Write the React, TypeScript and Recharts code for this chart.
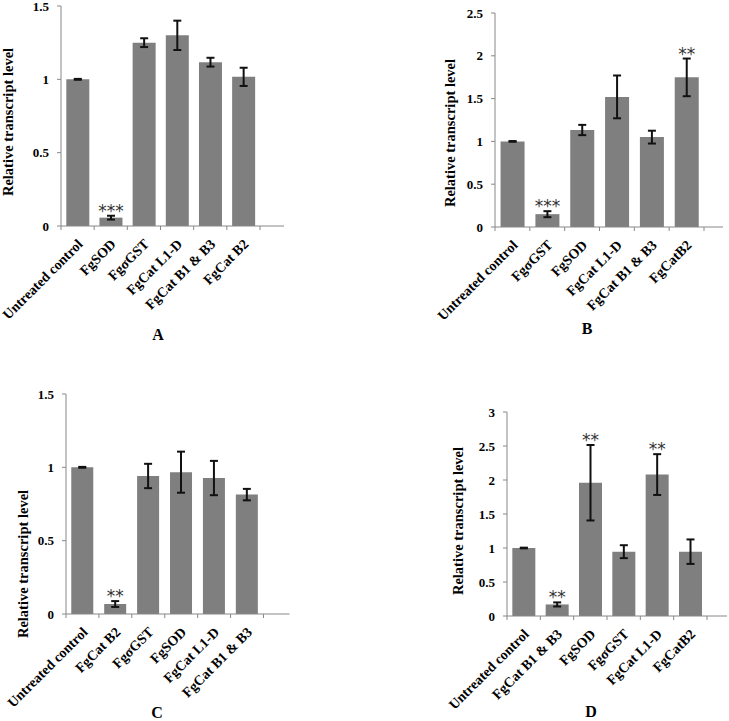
import { BarChart, Bar, XAxis, YAxis, ErrorBar, LabelList } from 'recharts';

// Panel A
const catsA = ['Untreated control', 'FgSOD', 'FgσGST', 'FgCat L1-D', 'FgCat B1 & B3', 'FgCat B2'];
const valsA = [1.0, 0.057, 1.25, 1.3, 1.117, 1.017];
const errsA = [0.003, 0.013, 0.03, 0.1, 0.03, 0.062];
const starsA = ['', '***', '', '', '', ''];
const ticksA = [0, 0.5, 1, 1.5];

// Panel B
const catsB = ['Untreated control', 'FgσGST', 'FgSOD', 'FgCat L1-D', 'FgCat B1 & B3', 'FgCatB2'];
const valsB = [1.0, 0.15, 1.133, 1.52, 1.05, 1.748];
const errsB = [0.004, 0.035, 0.06, 0.25, 0.075, 0.22];
const starsB = ['', '***', '', '', '', '**'];
const ticksB = [0, 0.5, 1, 1.5, 2, 2.5];

// Panel C
const catsC = ['Untreated control', 'FgCat B2', 'FgσGST', 'FgSOD', 'FgCat L1-D', 'FgCat B1 & B3'];
const valsC = [1.0, 0.068, 0.941, 0.967, 0.927, 0.814];
const errsC = [0.003, 0.02, 0.083, 0.14, 0.117, 0.039];
const starsC = ['', '**', '', '', '', ''];
const ticksC = [0, 0.5, 1, 1.5];

// Panel D
const catsD = ['Untreated control', 'FgCat B1 & B3', 'FgSOD', 'FgσGST', 'FgCat L1-D', 'FgCatB2'];
const valsD = [1.0, 0.17, 1.96, 0.946, 2.08, 0.946];
const errsD = [0.005, 0.03, 0.555, 0.095, 0.3, 0.18];
const starsD = ['', '**', '**', '', '**', ''];
const ticksD = [0, 0.5, 1, 1.5, 2, 2.5, 3];

const AXIS = '#888888';
const BAR = '#7f7f7f';
const SERIF = '"Liberation Serif", "Times New Roman", serif';

type PanelProps = {
  cats: string[];
  vals: number[];
  errs: number[];
  stars: string[];
  ticks: number[];
  axisX: number;
  plotTop: number;
  plotBottom: number;
  axisEnd: number;
  bandEnd: number;
};

const Panel = ({ cats, vals, errs, stars, ticks, axisX, plotTop, plotBottom, axisEnd, bandEnd }: PanelProps) => {
  const data = cats.map((c, i) => ({ name: c, value: vals[i], err: errs[i], stars: stars[i] }));
  const yW = 90;
  const left = axisX - yW;
  const top = plotTop - 10;
  const xH = 120;
  const width = axisEnd - left + 5;
  const height = plotBottom - top + xH + 5;
  const band = (bandEnd - axisX) / cats.length;
  const padR = axisEnd - bandEnd;

  const XTick = (p: any) => {
    const { x, y, payload, index } = p;
    const tx = x + 6;
    const ty = y + 19;
    return (
      <g>
        <line x1={x - band / 2} x2={x - band / 2} y1={y} y2={y + 4} stroke={AXIS} />
        {index === cats.length - 1 && (
          <line x1={x + band / 2} x2={x + band / 2} y1={y} y2={y + 4} stroke={AXIS} />
        )}
        <text
          x={tx}
          y={ty}
          transform={`rotate(-45 ${tx} ${ty})`}
          textAnchor="end"
          fontFamily={SERIF}
          fontWeight="bold"
          fontSize={14}
          fill="#000"
        >
          {payload.value}
        </text>
      </g>
    );
  };

  const renderStars = (p: any) => {
    const { x, y, width: w, height: h, index, value } = p;
    if (!value) return null;
    const v = vals[index];
    const errTop = y - (errs[index] * h) / v;
    return (
      <text
        x={x + w / 2}
        y={errTop + 1}
        textAnchor="middle"
        fontFamily='"DejaVu Sans", sans-serif'
        fontSize={17}
        fill="#333"
      >
        {value}
      </text>
    );
  };

  return (
    <div style={{ position: 'absolute', left, top }}>
      <BarChart
        width={width}
        height={height}
        data={data}
        margin={{ top: 10, right: 5, bottom: 5, left: 0 }}
        barCategoryGap="16%"
      >
        <XAxis
          dataKey="name"
          interval={0}
          height={xH}
          tickSize={0}
          tickMargin={0}
          tickLine={false}
          stroke={AXIS}
          padding={{ left: 0, right: padR }}
          tick={XTick}
        />
        <YAxis
          width={yW}
          domain={[0, ticks[ticks.length - 1]]}
          ticks={ticks}
          stroke={AXIS}
          tickSize={4}
          tickMargin={8}
          tick={{ fontFamily: SERIF, fontWeight: 'bold', fontSize: 13, fill: '#000' }}
        />
        <Bar dataKey="value" fill={BAR} isAnimationActive={false}>
          <ErrorBar dataKey="err" width={4} strokeWidth={2} stroke="#111" />
          <LabelList dataKey="stars" content={renderStars} />
        </Bar>
      </BarChart>
    </div>
  );
};

const YLabel = ({ x, y }: { x: number; y: number }) => (
  <text
    x={x}
    y={y}
    transform={`rotate(-90 ${x} ${y})`}
    textAnchor="middle"
    fontFamily={SERIF}
    fontWeight="bold"
    fontSize={14.5}
    fill="#000"
  >
    Relative transcript level
  </text>
);

const Letter = ({ x, y, t }: { x: number; y: number; t: string }) => (
  <text x={x} y={y} textAnchor="middle" fontFamily={SERIF} fontWeight="bold" fontSize={16} fill="#000">
    {t}
  </text>
);

export default function App() {
  return (
    <div style={{ position: 'absolute', left: 0, top: 0, width: 729, height: 721, background: '#fff', overflow: 'hidden' }}>
      <Panel cats={catsA} vals={valsA} errs={errsA} stars={starsA} ticks={ticksA}
        axisX={61} plotTop={6} plotBottom={226} axisEnd={284} bandEnd={260} />
      <Panel cats={catsB} vals={valsB} errs={errsB} stars={starsB} ticks={ticksB}
        axisX={495} plotTop={13} plotBottom={227} axisEnd={723} bandEnd={704} />
      <Panel cats={catsC} vals={valsC} errs={errsC} stars={starsC} ticks={ticksC}
        axisX={65.5} plotTop={394} plotBottom={614} axisEnd={289} bandEnd={263} />
      <Panel cats={catsD} vals={valsD} errs={errsD} stars={starsD} ticks={ticksD}
        axisX={507} plotTop={412} plotBottom={616} axisEnd={727} bandEnd={707} />
      <svg width={729} height={721} style={{ position: 'absolute', left: 0, top: 0, pointerEvents: 'none' }}>
        <YLabel x={13} y={122} />
        <YLabel x={455} y={133} />
        <YLabel x={28} y={564} />
        <YLabel x={463} y={521} />
        <Letter x={158} y={340} t="A" />
        <Letter x={587} y={334} t="B" />
        <Letter x={157} y={718} t="C" />
        <Letter x={591} y={717} t="D" />
      </svg>
    </div>
  );
}
